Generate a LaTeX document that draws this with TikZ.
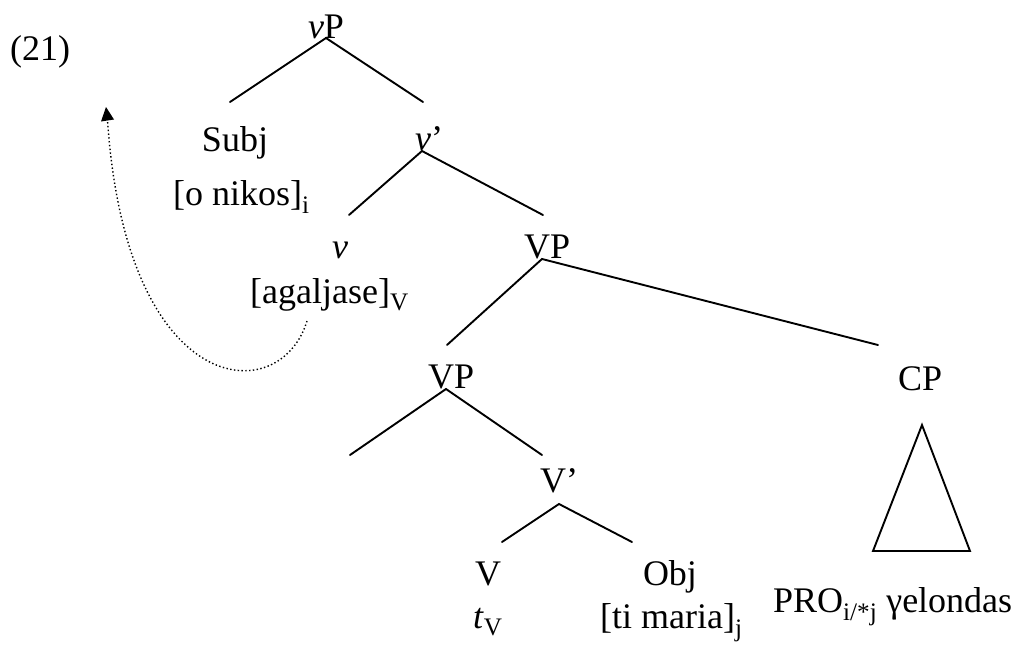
\documentclass[tikz,border=0pt]{standalone}
\usepackage{fontspec}
\setmainfont{Liberation Serif}
\begin{document}
\begin{tikzpicture}[x=1pt,y=-1pt,
  lbl/.style={inner sep=0pt, font=\fontsize{36}{43}\selectfont},
  branch/.style={line width=1.9pt, line cap=round},
  mvline/.style={dash pattern=on 1.4pt off 2.4pt, line width=1.4pt},
  mvhead/.style={fill=black, draw=none}]
\useasboundingbox (0,0) rectangle (1021,645);
% labels
\node[lbl, anchor=base west] (ex) at (10,60) {(21)};
\node[lbl, anchor=base] (vP) at (326,38) {\textit{v}P};
\node[lbl, anchor=base] (subj) at (235,151) {Subj};
\node[lbl, anchor=base west] (nikos) at (173,205) {[o nikos]\textsubscript{i}};
\node[lbl, anchor=base west] (vbar) at (415,150) {\textit{v}’};
\node[lbl, anchor=base] (v) at (340,258) {\textit{v}};
\node[lbl, anchor=base west] (agal) at (250,303) {[agaljase]\textsubscript{V}};
\node[lbl, anchor=base west] (VPa) at (524,258) {VP};
\node[lbl, anchor=base west] (VPb) at (428,388) {VP};
\node[lbl, anchor=base west] (CP) at (898,390) {CP};
\node[lbl, anchor=base west] (Vbar) at (540,492) {V’};
\node[lbl, anchor=base] (V) at (488,585) {V};
\node[lbl, anchor=base] (obj) at (670,585) {Obj};
\node[lbl, anchor=base west] (tv) at (473,628) {\textit{t}\textsubscript{V}};
\node[lbl, anchor=base west] (maria) at (600,628) {[ti maria]\textsubscript{j}};
\node[lbl, anchor=base west] (pro) at (773,612) {PRO\textsubscript{i/*j} γelondas};
% branch points
\coordinate (vPa) at (326,38);
\coordinate (vPl) at (230,102);
\coordinate (vPr) at (423,102);
\coordinate (vba) at (422,151);
\coordinate (vbl) at (349,215);
\coordinate (vbr) at (543,215);
\coordinate (VPaa) at (542,259);
\coordinate (VPal) at (447,345);
\coordinate (VPar) at (878,345);
\coordinate (VPba) at (446,389);
\coordinate (VPbl) at (350,455);
\coordinate (VPbr) at (542,455);
\coordinate (Vba) at (559,504);
\coordinate (Vbl) at (502,542);
\coordinate (Vbr) at (632,542);
\coordinate (triT) at (922,425);
\coordinate (triL) at (873,551);
\coordinate (triR) at (970,551);
\coordinate (mvS) at (307,321);
\coordinate (mvB) at (107.5,120);
\coordinate (mvT) at (106,107);
\coordinate (mvB1) at (114,119.5);
\coordinate (mvB2) at (101,121.5);
% branches
\draw[branch] (vPl) -- (vPa) -- (vPr);
\draw[branch] (vbl) -- (vba) -- (vbr);
\draw[branch] (VPal) -- (VPaa) -- (VPar);
\draw[branch] (VPbl) -- (VPba) -- (VPbr);
\draw[branch] (Vbl) -- (Vba) -- (Vbr);
\draw[line width=1.9pt, line join=miter] (triT) -- (triL) -- (triR) -- cycle;
% movement arrow
\draw[mvline] (mvS) .. controls (280,410) and (126,400) .. (mvB);
\fill[mvhead] (mvT) -- (mvB1) -- (mvB2) -- cycle;
\end{tikzpicture}
\end{document}
